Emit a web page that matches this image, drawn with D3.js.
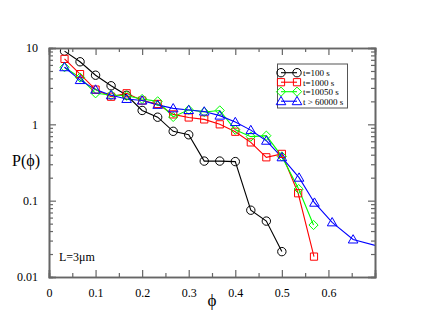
<!DOCTYPE html>
<html><head><meta charset="utf-8">
<script src="https://cdn.jsdelivr.net/npm/d3@7"></script>
<style>html,body{margin:0;padding:0;background:#fff;}</style>
</head><body>
<script>
// ---- data ----
const phi30 = [1,2,3,4,5,6,7,8,9,10,11,12,13,14,15].map(i => i/30);
const xT100 = phi30;
const yT100 = [9.1, 6.6, 4.4, 3.2, 2.4, 1.52, 1.24, 0.81, 0.73, 0.33, 0.33, 0.325, 0.075, 0.054, 0.0215];
const xT1000 = phi30.concat([0.535, 0.569]);
const yT1000 = [7.2, 4.55, 2.85, 2.3, 2.55, 2.05, 1.85, 1.35, 1.23, 1.16, 1.0, 0.80, 0.58, 0.37, 0.41, 0.125, 0.0185];
const xT10050 = phi30.concat([0.536, 0.568]);
const yT10050 = [5.6, 4.1, 2.55, 2.42, 2.37, 2.15, 2.0, 1.25, 1.55, 1.45, 1.52, 0.85, 0.69, 0.71, 0.38, 0.142, 0.048];
const xT60000 = phi30.concat([0.537, 0.570, 0.608, 0.653, 0.75]);
const yT60000 = [5.6, 3.8, 2.85, 2.4, 2.15, 2.05, 1.8, 1.62, 1.54, 1.47, 1.3, 1.07, 0.84, 0.61, 0.37, 0.20, 0.094, 0.052, 0.031, 0.0215];
const seriesNames = ["t=100 s", "t=1000 s", "t=10050 s", "t > 60000 s"];
const seriesColors = ["#000000", "#ff0000", "#00ff00", "#0000ff"];
const seriesMarkers = ["circle", "square", "diamond", "triangle"];
const xTickValues = [0, 0.1, 0.2, 0.3, 0.4, 0.5, 0.6];
const xTickLabels = ["0", "0.1", "0.2", "0.3", "0.4", "0.5", "0.6"];
const yTickValues = [0.01, 0.1, 1, 10];
const yTickLabels = ["0.01", "0.1", "1", "10"];

const series = [
  {x: xT100, y: yT100}, {x: xT1000, y: yT1000}, {x: xT10050, y: yT10050}, {x: xT60000, y: yT60000}
].map((s, i) => ({name: seriesNames[i], color: seriesColors[i], marker: seriesMarkers[i],
  pts: s.x.map((v, j) => [v, s.y[j]])}));

// ---- layout ----
const W = 422, H = 326;
const L = 49, R = 375, T = 48, B = 277;
const svg = d3.select("body").append("svg").attr("width", W).attr("height", H)
  .style("font-family", "'Liberation Serif','Times New Roman',serif");
svg.append("rect").attr("width", W).attr("height", H).attr("fill", "#fff");

const x = d3.scaleLinear().domain([0, 0.7]).range([L, R]);
const y = d3.scaleLog().domain([0.01, 10]).range([B, T]);

svg.append("clipPath").attr("id", "clip").append("rect")
  .attr("x", L).attr("y", T).attr("width", R - L).attr("height", B - T);

function markerPath(type) {
  if (type === "circle") return d3.symbol(d3.symbolCircle, Math.PI * 4.2 * 4.2)();
  if (type === "square") return "M-3.6,-3.6H3.6V3.6H-3.6Z";
  if (type === "diamond") return "M0,-4.6L4.6,0L0,4.6L-4.6,0Z";
  return "M0,-4.8L4.8,3.5L-4.8,3.5Z";
}

const plot = svg.append("g").attr("clip-path", "url(#clip)");
const line = d3.line().x(d => x(d[0])).y(d => y(d[1]));
series.forEach(s => {
  plot.append("path").datum(s.pts).attr("d", line)
    .attr("fill", "none").attr("stroke", s.color).attr("stroke-width", 1.1);
});
series.forEach(s => {
  plot.selectAll(null).data(s.pts.filter(p => p[0] <= 0.7)).enter().append("path")
    .attr("transform", d => `translate(${x(d[0])},${y(d[1])})`)
    .attr("d", markerPath(s.marker))
    .attr("fill", "none").attr("stroke", s.color).attr("stroke-width", 1);
});

// ---- axes ----
const axisColor = "#666";
const minorY = [];
[0.01, 0.1, 1].forEach(d => { for (let k = 2; k <= 9; k++) minorY.push(d * k); });
const minorX = [0.05, 0.15, 0.25, 0.35, 0.45, 0.55, 0.65];

const axBottom = d3.axisBottom(x).tickValues(xTickValues).tickSize(-7).tickFormat((d, i) => xTickLabels[i]).tickPadding(11);
const axBottomMinor = d3.axisBottom(x).tickValues(minorX).tickSize(-4).tickFormat("");
const axTop = d3.axisTop(x).tickValues(xTickValues).tickSize(-7).tickFormat("");
const axTopMinor = d3.axisTop(x).tickValues(minorX).tickSize(-4).tickFormat("");
const axLeft = d3.axisLeft(y).tickValues(yTickValues).tickSize(-7).tickFormat((d, i) => yTickLabels[i]).tickPadding(11);
const axLeftMinor = d3.axisLeft(y).tickValues(minorY).tickSize(-4).tickFormat("");
const axRight = d3.axisRight(y).tickValues(yTickValues).tickSize(-7).tickFormat("");
const axRightMinor = d3.axisRight(y).tickValues(minorY).tickSize(-4).tickFormat("");

function styleAxis(g) {
  g.selectAll("path").attr("stroke", axisColor).attr("stroke-width", 1.6);
  g.selectAll("line").attr("stroke", axisColor).attr("stroke-width", 1.2);
  g.selectAll("text").attr("fill", "#000").style("font-size", "12px")
    .style("font-family", "'Liberation Serif','Times New Roman',serif");
}
svg.append("g").attr("transform", `translate(0,${B})`).call(axBottomMinor).call(styleAxis);
svg.append("g").attr("transform", `translate(0,${T})`).call(axTopMinor).call(styleAxis);
svg.append("g").attr("transform", `translate(${L},0)`).call(axLeftMinor).call(styleAxis);
svg.append("g").attr("transform", `translate(${R},0)`).call(axRightMinor).call(styleAxis);
svg.append("g").attr("transform", `translate(0,${B})`).call(axBottom).call(styleAxis);
svg.append("g").attr("transform", `translate(0,${T})`).call(axTop).call(styleAxis);
svg.append("g").attr("transform", `translate(${L},0)`).call(axLeft).call(styleAxis);
svg.append("g").attr("transform", `translate(${R},0)`).call(axRight).call(styleAxis);

// ---- labels ----
svg.append("text").attr("x", 12).attr("y", 166).text("P(ϕ)")
  .style("font-size", "16px").attr("fill", "#000");
svg.append("text").attr("x", 212).attr("y", 306).attr("text-anchor", "middle").text("ϕ")
  .style("font-size", "17px").attr("fill", "#000");
svg.append("text").attr("x", 59).attr("y", 261).text("L=3μm")
  .style("font-size", "12px").attr("fill", "#000");

// ---- legend ----
const lg = svg.append("g");
lg.append("rect").attr("x", 277.5).attr("y", 64).attr("width", 70).attr("height", 44)
  .attr("fill", "#fff").attr("stroke", "#555").attr("stroke-width", 1);
series.forEach((s, i) => {
  const yy = 72.7 + i * 9.5;
  lg.append("line").attr("x1", 281).attr("x2", 297).attr("y1", yy).attr("y2", yy)
    .attr("stroke", s.color).attr("stroke-width", 1.1);
  [281, 297].forEach(xx => lg.append("path").attr("transform", `translate(${xx},${yy})`)
    .attr("d", markerPath(s.marker)).attr("fill", "none").attr("stroke", s.color));
  lg.append("text").attr("x", 303).attr("y", yy + 3.3).text(s.name)
    .style("font-size", "9px").attr("fill", "#000");
});
</script>
</body></html>
